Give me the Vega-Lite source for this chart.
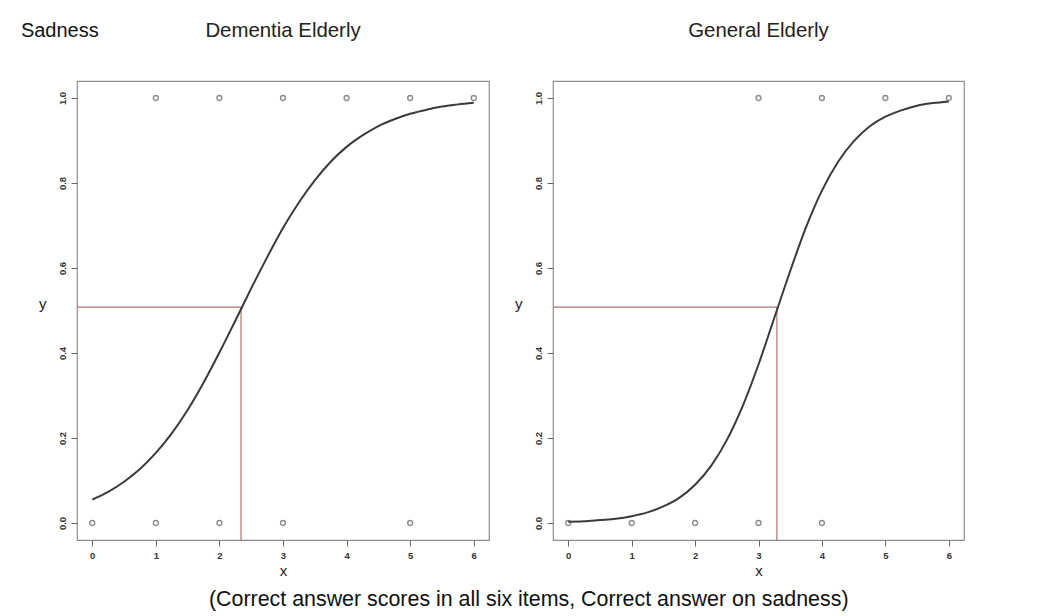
{
  "$schema": "https://vega.github.io/schema/vega-lite/v6.json",
  "background": "white",
  "padding": {"left": 20, "top": 20, "right": 10, "bottom": 5},
  "datasets": {
    "pts": [
      {"panel": "D", "x": 1, "y": 1}, {"panel": "D", "x": 2, "y": 1}, {"panel": "D", "x": 3, "y": 1},
      {"panel": "D", "x": 4, "y": 1}, {"panel": "D", "x": 5, "y": 1}, {"panel": "D", "x": 6, "y": 1},
      {"panel": "D", "x": 0, "y": 0}, {"panel": "D", "x": 1, "y": 0}, {"panel": "D", "x": 2, "y": 0},
      {"panel": "D", "x": 3, "y": 0}, {"panel": "D", "x": 5, "y": 0},
      {"panel": "G", "x": 3, "y": 1}, {"panel": "G", "x": 4, "y": 1}, {"panel": "G", "x": 5, "y": 1},
      {"panel": "G", "x": 6, "y": 1},
      {"panel": "G", "x": 0, "y": 0}, {"panel": "G", "x": 1, "y": 0}, {"panel": "G", "x": 2, "y": 0},
      {"panel": "G", "x": 3, "y": 0}, {"panel": "G", "x": 4, "y": 0}
    ],
    "curve": [
      {"panel": "D", "x": 0, "y": 0.055}, {"panel": "D", "x": 0.25, "y": 0.073}, {"panel": "D", "x": 0.5, "y": 0.097},
      {"panel": "D", "x": 0.75, "y": 0.127}, {"panel": "D", "x": 1, "y": 0.165}, {"panel": "D", "x": 1.25, "y": 0.211},
      {"panel": "D", "x": 1.5, "y": 0.266}, {"panel": "D", "x": 1.75, "y": 0.330}, {"panel": "D", "x": 2, "y": 0.401},
      {"panel": "D", "x": 2.25, "y": 0.476}, {"panel": "D", "x": 2.5, "y": 0.552}, {"panel": "D", "x": 2.75, "y": 0.625},
      {"panel": "D", "x": 3, "y": 0.694}, {"panel": "D", "x": 3.25, "y": 0.754}, {"panel": "D", "x": 3.5, "y": 0.806},
      {"panel": "D", "x": 3.75, "y": 0.850}, {"panel": "D", "x": 4, "y": 0.885}, {"panel": "D", "x": 4.25, "y": 0.912},
      {"panel": "D", "x": 4.5, "y": 0.934}, {"panel": "D", "x": 4.75, "y": 0.950}, {"panel": "D", "x": 5, "y": 0.963},
      {"panel": "D", "x": 5.25, "y": 0.972}, {"panel": "D", "x": 5.5, "y": 0.980}, {"panel": "D", "x": 5.75, "y": 0.985},
      {"panel": "D", "x": 6, "y": 0.989},
      {"panel": "G", "x": 0, "y": 0.003}, {"panel": "G", "x": 0.25, "y": 0.004}, {"panel": "G", "x": 0.5, "y": 0.007},
      {"panel": "G", "x": 0.75, "y": 0.010}, {"panel": "G", "x": 1, "y": 0.016}, {"panel": "G", "x": 1.25, "y": 0.025},
      {"panel": "G", "x": 1.5, "y": 0.039}, {"panel": "G", "x": 1.75, "y": 0.059}, {"panel": "G", "x": 2, "y": 0.090},
      {"panel": "G", "x": 2.25, "y": 0.134}, {"panel": "G", "x": 2.5, "y": 0.195}, {"panel": "G", "x": 2.75, "y": 0.275},
      {"panel": "G", "x": 3, "y": 0.373}, {"panel": "G", "x": 3.25, "y": 0.483}, {"panel": "G", "x": 3.5, "y": 0.593},
      {"panel": "G", "x": 3.75, "y": 0.696}, {"panel": "G", "x": 4, "y": 0.782}, {"panel": "G", "x": 4.25, "y": 0.849},
      {"panel": "G", "x": 4.5, "y": 0.898}, {"panel": "G", "x": 4.75, "y": 0.933}, {"panel": "G", "x": 5, "y": 0.956},
      {"panel": "G", "x": 5.25, "y": 0.971}, {"panel": "G", "x": 5.5, "y": 0.982}, {"panel": "G", "x": 5.75, "y": 0.988},
      {"panel": "G", "x": 6, "y": 0.992}
    ],
    "ref": [
      {"panel": "D", "x_start": -0.24, "x50": 2.34, "y50": 0.508, "y_end": -0.04},
      {"panel": "G", "x_start": -0.24, "x50": 3.29, "y50": 0.508, "y_end": -0.04}
    ]
  },
  "title": {
    "text": "(Correct answer scores in all six items, Correct answer on sadness)",
    "orient": "bottom", "anchor": "middle", "fontSize": 21.4, "font": "Liberation Sans",
    "fontWeight": "normal", "color": "#111", "offset": 10, "dx": 36
  },
  "vconcat": [
    {
      "title": {"text": "Sadness", "anchor": "start", "fontSize": 20, "font": "Liberation Sans",
        "fontWeight": "normal", "color": "#111", "offset": -21, "dx": -17},
      "spacing": 23,
      "hconcat": [
        {
          "title": {"text": "Dementia Elderly", "fontSize": 20.4, "font": "Liberation Sans", "fontWeight": "normal", "color": "#222", "offset": 40},
          "width": 412, "height": 459,
          "layer": [
            {
              "data": {"name": "ref"}, "transform": [{"filter": "datum.panel == 'D'"}],
              "mark": {"type": "rule", "color": "#b3706c", "strokeWidth": 1.2},
              "encoding": {
                "x": {"field": "x_start", "type": "quantitative", "scale": {"domain": [-0.24, 6.24], "nice": false, "zero": false}},
                "x2": {"field": "x50"},
                "y": {"field": "y50", "type": "quantitative", "scale": {"domain": [-0.04, 1.04], "nice": false, "zero": false}}
              }
            },
            {
              "data": {"name": "ref"}, "transform": [{"filter": "datum.panel == 'D'"}],
              "mark": {"type": "rule", "color": "#b3706c", "strokeWidth": 1.2},
              "encoding": {
                "x": {"field": "x50", "type": "quantitative"},
                "y": {"field": "y50", "type": "quantitative"},
                "y2": {"field": "y_end"}
              }
            },
            {
              "data": {"name": "pts"}, "transform": [{"filter": "datum.panel == 'D'"}],
              "mark": {"type": "point", "shape": "circle", "filled": false, "color": "#8c8c8c", "size": 24, "strokeWidth": 1.4, "opacity": 1},
              "encoding": {
                "x": {"field": "x", "type": "quantitative", "title": "x",
                  "axis": {"values": [0, 1, 2, 3, 4, 5, 6], "format": "d"}},
                "y": {"field": "y", "type": "quantitative", "title": "y",
                  "axis": {"values": [0, 0.2, 0.4, 0.6, 0.8, 1], "format": ".1f"}}
              }
            },
            {
              "data": {"name": "curve"}, "transform": [{"filter": "datum.panel == 'D'"}],
              "mark": {"type": "line", "color": "#3a3a3a", "strokeWidth": 2, "interpolate": "monotone"},
              "encoding": {
                "x": {"field": "x", "type": "quantitative"},
                "y": {"field": "y", "type": "quantitative"}
              }
            }
          ]
        },
        {
          "title": {"text": "General Elderly", "fontSize": 20.4, "font": "Liberation Sans", "fontWeight": "normal", "color": "#222", "offset": 40},
          "width": 411, "height": 459,
          "layer": [
            {
              "data": {"name": "ref"}, "transform": [{"filter": "datum.panel == 'G'"}],
              "mark": {"type": "rule", "color": "#b3706c", "strokeWidth": 1.2},
              "encoding": {
                "x": {"field": "x_start", "type": "quantitative", "scale": {"domain": [-0.24, 6.24], "nice": false, "zero": false}},
                "x2": {"field": "x50"},
                "y": {"field": "y50", "type": "quantitative", "scale": {"domain": [-0.04, 1.04], "nice": false, "zero": false}}
              }
            },
            {
              "data": {"name": "ref"}, "transform": [{"filter": "datum.panel == 'G'"}],
              "mark": {"type": "rule", "color": "#b3706c", "strokeWidth": 1.2},
              "encoding": {
                "x": {"field": "x50", "type": "quantitative"},
                "y": {"field": "y50", "type": "quantitative"},
                "y2": {"field": "y_end"}
              }
            },
            {
              "data": {"name": "pts"}, "transform": [{"filter": "datum.panel == 'G'"}],
              "mark": {"type": "point", "shape": "circle", "filled": false, "color": "#8c8c8c", "size": 24, "strokeWidth": 1.4, "opacity": 1},
              "encoding": {
                "x": {"field": "x", "type": "quantitative", "title": "x",
                  "axis": {"values": [0, 1, 2, 3, 4, 5, 6], "format": "d"}},
                "y": {"field": "y", "type": "quantitative", "title": "y",
                  "axis": {"values": [0, 0.2, 0.4, 0.6, 0.8, 1], "format": ".1f"}}
              }
            },
            {
              "data": {"name": "curve"}, "transform": [{"filter": "datum.panel == 'G'"}],
              "mark": {"type": "line", "color": "#3a3a3a", "strokeWidth": 2, "interpolate": "monotone"},
              "encoding": {
                "x": {"field": "x", "type": "quantitative"},
                "y": {"field": "y", "type": "quantitative"}
              }
            }
          ]
        }
      ]
    }
  ],
  "config": {
    "view": {"stroke": "#8f8f8f", "strokeWidth": 1.2},
    "axis": {
      "domain": false, "grid": false, "ticks": true, "tickSize": 6, "tickColor": "#666", "tickWidth": 1,
      "labelFont": "Liberation Sans", "labelFontSize": 9.5, "labelFontWeight": "bold", "labelColor": "#333",
      "labelPadding": 4, "titleFont": "Liberation Sans", "titleFontSize": 15, "titleFontWeight": "normal",
      "titleColor": "#222"
    },
    "axisX": {"titlePadding": 4},
    "axisY": {"labelAngle": -90, "labelAlign": "center", "labelBaseline": "bottom", "titleAngle": 0,
      "titleAlign": "right", "titleBaseline": "middle", "titlePadding": 11, "titleY": 222}
  }
}
